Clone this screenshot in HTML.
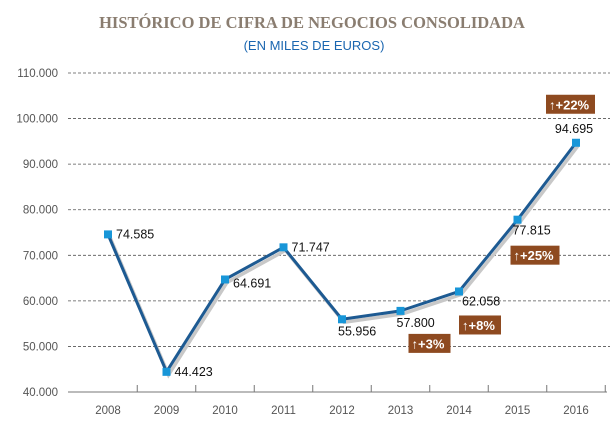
<!DOCTYPE html>
<html><head><meta charset="utf-8"><style>
body{margin:0;background:#fff;width:610px;height:422px;overflow:hidden}
svg text{font-family:"Liberation Sans",sans-serif}
</style></head><body>
<svg width="610" height="422">
<text x="312" y="28" text-anchor="middle" font-family="Liberation Serif" font-weight="bold" font-size="16.5" fill="#8a7d70" style="font-family:'Liberation Serif',serif">HISTÓRICO DE CIFRA DE NEGOCIOS CONSOLIDADA</text>
<text x="314" y="50" text-anchor="middle" font-size="13" fill="#1a66b0">(EN MILES DE EUROS)</text>
<g id="grid"></g><g id="axis"></g><g id="series"></g><g id="labels"></g>
</svg>
<script>
const years=["2008","2009","2010","2011","2012","2013","2014","2015","2016"];
const values=[74585,44423,64691,71747,55956,57800,62058,77815,94695];
const valueLabels=["74.585","44.423","64.691","71.747","55.956","57.800","62.058","77.815","94.695"];
const yTicks=[40000,50000,60000,70000,80000,90000,100000,110000];
const yTickLabels=["40.000","50.000","60.000","70.000","80.000","90.000","100.000","110.000"];
const growthIdx=[5,6,7,8];
const growthLabels=["+3%","+8%","+25%","+22%"];
const NS="http://www.w3.org/2000/svg";
const x=i=>108+i*58.5;
const y=v=>392-(v-40000)*0.004557;
function mk(t,a,p,txt){const e=document.createElementNS(NS,t);for(const k in a)e.setAttribute(k,a[k]);if(txt!=null)e.textContent=txt;document.getElementById(p).appendChild(e);return e;}
yTicks.forEach((v,i)=>{
 if(i>0){const l=mk('line',{x1:68,x2:610,y1:y(v),y2:y(v),stroke:'#555','stroke-width':0.8,'stroke-dasharray':'3,2'},'grid');
 
 }
 const t=mk('text',{x:58,y:y(v)+4,'text-anchor':'end','font-size':11.5,fill:'#555'},'grid',yTickLabels[i]);
 
 
});
const ax=mk('line',{x1:68,x2:607,y1:392,y2:392,stroke:'#777','stroke-width':1},'axis');


years.forEach((yr,i)=>{
 const tk=mk('line',{x1:x(i)+29.25,x2:x(i)+29.25,y1:385,y2:392,stroke:'#777'},'axis');
 
 
 const t=mk('text',{x:x(i),y:414,'text-anchor':'middle','font-size':11.5,fill:'#555'},'axis',yr);
 
 
});
const pts=values.map((v,i)=>x(i)+','+y(v)).join(' ');
const sh=mk('polyline',{points:values.map((v,i)=>(x(i)+2)+','+(y(v)+3)).join(' '),fill:'none',stroke:'#c8c8c8','stroke-width':3.5},'series');


const ln=mk('polyline',{points:pts,fill:'none',stroke:'#1d5a92','stroke-width':3,'stroke-linejoin':'round'},'series');


values.forEach((v,i)=>{
 const m=mk('rect',{x:x(i)-4,y:y(v)-4,width:8,height:8,fill:'#1896d8'},'series');
 
 
});
const off=[[8,4],[8,4],[8,8],[8,4],[-4,16],[-4,16],[3,14],[-5,15],[-2,-10]];
values.forEach((v,i)=>{
 const t=mk('text',{x:x(i)+off[i][0],y:y(v)+off[i][1],'font-size':12.5,fill:'#111','text-anchor':i==8?'middle':'start'},'labels',valueLabels[i]);
 
 
});
const boff=[[8,23],[0,24],[-7,26],[-30,-48]];
growthIdx.forEach((idx,j)=>{
 const bx=x(idx)+boff[j][0], by=y(values[idx])+boff[j][1];
 const w=growthLabels[j].length>3?49:42;
 const r=mk('rect',{x:bx,y:by,width:w,height:19,fill:'#8e4a20'},'labels');
 
 
 const t=mk('text',{x:bx+3,y:by+14.5,'font-size':13,fill:'#fff','font-weight':'bold'},'labels','↑'+growthLabels[j]);
 
 
});
</script>
</body></html>
